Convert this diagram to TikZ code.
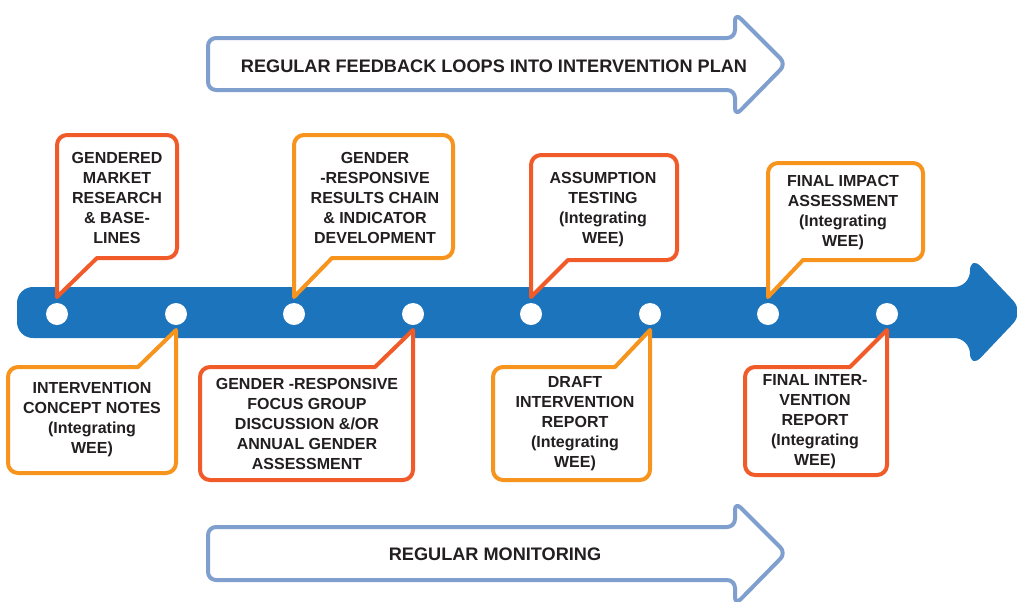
\documentclass[tikz,border=0pt]{standalone}
\usepackage{fontspec}
\setmainfont{Liberation Sans}
\usetikzlibrary{calc}
\definecolor{calred}{HTML}{F15A29}
\definecolor{calorange}{HTML}{F7941D}
\definecolor{tlblue}{HTML}{1C75BC}
\definecolor{arrowblue}{HTML}{7F9FCF}
\definecolor{ink}{HTML}{231F20}
\begin{document}
\begin{tikzpicture}[x=0.75pt,y=-0.75pt,
  callout/.style={line width=3pt, fill=white, line join=round},
  lbl/.style={font=\bfseries\fontsize{12}{15}\selectfont, align=center, text=ink, inner sep=0pt},
  arrtxt/.style={font=\bfseries\fontsize{13.6}{16}\selectfont, text=ink, inner sep=0pt},
  dotnode/.style={circle, fill=white, minimum size=16.5pt, inner sep=0pt},
  bigarrow/.style={draw=arrowblue, line width=3pt, fill=white, rounded corners=6pt, line join=round}]
\useasboundingbox (0,0) rectangle (1017,601);
\fill[white] (0,0) rectangle (1017,601);

% top feedback arrow
\draw[bigarrow] (208,38) -- (735,38) -- (735,13) -- (786,64) -- (735,116) -- (735,90) -- (208,90) -- cycle;
\node[arrtxt] (fb) at (494,66) {REGULAR FEEDBACK LOOPS INTO INTERVENTION PLAN};

% bottom monitoring arrow
\draw[bigarrow] (208,527) -- (735,527) -- (735,502) -- (786,553) -- (735,605) -- (735,580) -- (208,580) -- cycle;
\node[arrtxt] (rm) at (495,554) {REGULAR MONITORING};

% timeline
\fill[tlblue, rounded corners=12pt] (17,287) -- (970,287) -- (970,255) -- (1024,312) -- (970,369) -- (970,338) -- (17,338) -- cycle;

% dots
\foreach \i/\x in {1/57,2/176,3/294,4/413,5/531,6/650,7/768,8/887}
  \node[dotnode] (d\i) at (\x,314) {};

% top callouts
\draw[callout, draw=calred] ($(d1.center)+(0,-17)$) [rounded corners=7.5pt] -- (57,135) -- (177,135) -- (177,258) [sharp corners] -- (97,258) -- cycle;
\node[lbl] (c1) at (117,198) {GENDERED\\MARKET\\RESEARCH\\\& BASE-\\LINES};

\draw[callout, draw=calorange] ($(d3.center)+(0,-17)$) [rounded corners=7.5pt] -- (294,135) -- (453,135) -- (453,258) [sharp corners] -- (332,258) -- cycle;
\node[lbl] (c2) at (375,198) {GENDER\\-RESPONSIVE\\RESULTS CHAIN\\\& INDICATOR\\DEVELOPMENT};

\draw[callout, draw=calred] ($(d5.center)+(0,-17)$) [rounded corners=7.5pt] -- (531,155) -- (677,155) -- (677,260) [sharp corners] -- (568,260) -- cycle;
\node[lbl] (c3) at (603,210) {ASSUMPTION\\TESTING\\(Integrating\\WEE)};

\draw[callout, draw=calorange] ($(d7.center)+(0,-17)$) [rounded corners=7.5pt] -- (768,163) -- (923,163) -- (923,260) [sharp corners] -- (803,260) -- cycle;
\node[lbl] (c4) at (843,213) {FINAL IMPACT\\ASSESSMENT\\(Integrating\\WEE)};

% bottom callouts
\draw[callout, draw=calorange] ($(d2.center)+(0,16)$) [rounded corners=7.5pt] -- (176,473) -- (8,473) -- (8,367) [sharp corners] -- (138,367) -- cycle;
\node[lbl] (c5) at (92,420) {INTERVENTION\\CONCEPT NOTES\\(Integrating\\WEE)};

\draw[callout, draw=calred] ($(d4.center)+(0,16)$) [rounded corners=7.5pt] -- (413,480) -- (200,480) -- (200,367) [sharp corners] -- (375,367) -- cycle;
\node[lbl] (c6) at (307,424) {GENDER -RESPONSIVE\\FOCUS GROUP\\DISCUSSION \&/OR\\ANNUAL GENDER\\ASSESSMENT};

\draw[callout, draw=calorange] ($(d6.center)+(0,16)$) [rounded corners=7.5pt] -- (650,480) -- (493,480) -- (493,367) [sharp corners] -- (615,367) -- cycle;
\node[lbl] (c7) at (575,424) {DRAFT\\INTERVENTION\\REPORT\\(Integrating\\WEE)};

\draw[callout, draw=calred] ($(d8.center)+(0,16)$) [rounded corners=7.5pt] -- (887,475) -- (745,475) -- (745,367) [sharp corners] -- (850,367) -- cycle;
\node[lbl] (c8) at (815,422) {FINAL INTER-\\VENTION\\REPORT\\(Integrating\\WEE)};
\end{tikzpicture}
\end{document}
